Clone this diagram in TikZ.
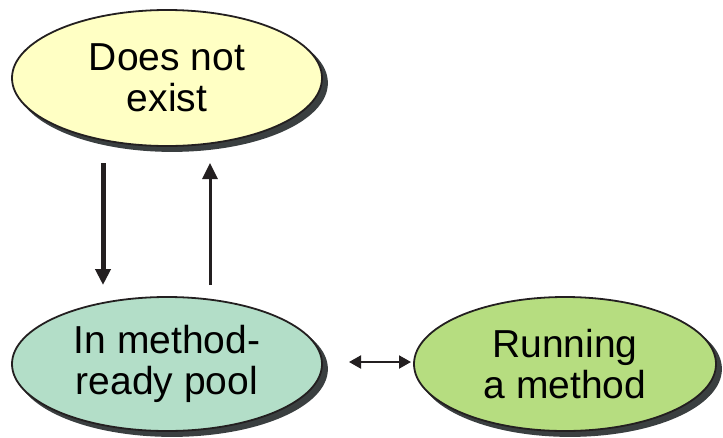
\documentclass[tikz,border=0pt]{standalone}
\usepackage{fontspec}
\setmainfont{Liberation Sans}
\usetikzlibrary{shapes.geometric,shadows,arrows.meta}
\definecolor{inkc}{HTML}{231F20}
\definecolor{shadowc}{HTML}{3A3F40}
\definecolor{yellowc}{HTML}{FFFFC4}
\definecolor{tealc}{HTML}{B3DEC8}
\definecolor{greenc}{HTML}{B6DD80}
\tikzset{
  state/.style={ellipse, draw=inkc, line width=1.8pt, align=center, inner sep=0pt,
    font=\fontsize{39}{41}\selectfont, text=black,
    copy shadow={shadow xshift=5pt, shadow yshift=-5pt, fill=shadowc, draw=shadowc}},
  arr/.style={draw=inkc, -{Triangle[length=16pt,width=15pt]}},
}
\begin{document}
\begin{tikzpicture}[x=1pt,y=-1pt]
\useasboundingbox (0,0) rectangle (723,437);
\node[state, fill=yellowc, minimum width=310pt, minimum height=136pt] (absent) at (167,78) {Does not\\exist};
\node[state, fill=tealc, minimum width=310pt, minimum height=134pt] (pool) at (167,364) {In method-\\ready pool};
\node[state, fill=greenc, minimum width=302pt, minimum height=134pt] (running) at (565,364) {Running\\a method};
\coordinate (d1) at (103,163);
\coordinate (d2) at (103,285);
\coordinate (u1) at (210,285);
\coordinate (u2) at (210,163);
\coordinate (h1) at (349,362);
\coordinate (h2) at (411,362);
\draw[arr, line width=5pt] (d1) -- (d2);
\draw[arr, line width=3pt] (u1) -- (u2);
\draw[draw=inkc, line width=2pt, {Triangle[length=12pt,width=13pt]}-{Triangle[length=12pt,width=13pt]}] (h1) -- (h2);
\end{tikzpicture}
\end{document}
